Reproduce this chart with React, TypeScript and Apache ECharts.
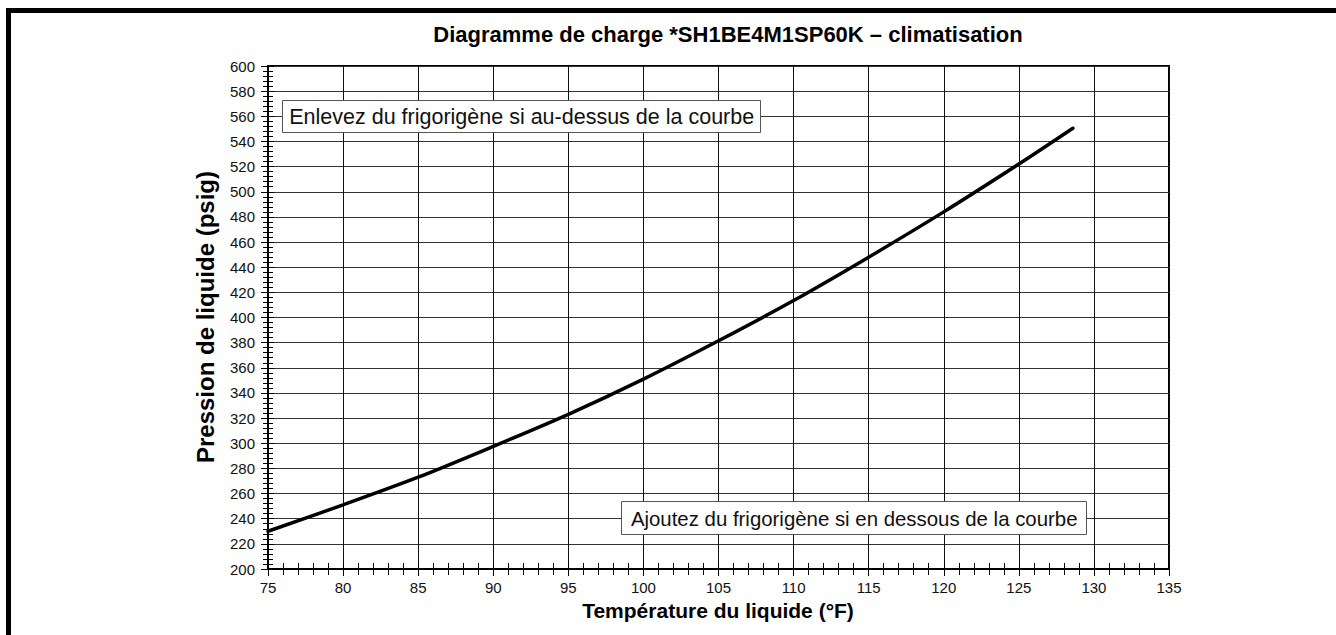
import React, { useEffect, useRef } from "react";
import * as echarts from "echarts";

const temperatures = [75, 80, 85, 90, 95, 100, 105, 110, 115, 120, 125, 128.6];
const pressures = [230, 251, 273, 297.5, 323, 351, 381.5, 413.5, 448, 484, 522, 550.5];

const titleText = "Diagramme de charge *SH1BE4M1SP60K – climatisation";
const xName = "Température du liquide (°F)";
const yName = "Pression de liquide (psig)";
const noteAbove = "Enlevez du frigorigène si au-dessus de la courbe";
const noteBelow = "Ajoutez du frigorigène si en dessous de la courbe";

const FONT = "'Liberation Sans', Arial, Helvetica, sans-serif";

export default function App() {
  const ref = useRef<HTMLDivElement>(null);
  useEffect(() => {
    if (!ref.current) return;
    const chart = echarts.init(ref.current, null, { renderer: "svg" });
    const label = { color: "#111", fontSize: 15, fontFamily: FONT };
    const xBase = {
      type: "value",
      min: 75,
      max: 135,
      interval: 5,
      position: "bottom",
    };
    const yBase = {
      type: "value",
      min: 200,
      max: 600,
      interval: 20,
      position: "left",
    };
    chart.setOption({
      animation: false,
      backgroundColor: "#fff",
      textStyle: { fontFamily: FONT },
      grid: {
        left: 268,
        right: 167,
        top: 66,
        bottom: 66,
        show: true,
        borderColor: "#000",
        borderWidth: 2,
        backgroundColor: "transparent",
      },
      xAxis: [
        {
          ...xBase,
          axisLine: { show: true, lineStyle: { color: "#000", width: 2 } },
          axisTick: { show: true, length: 7, lineStyle: { color: "#000", width: 1 } },
          minorTick: { show: true, splitNumber: 5, length: 6, lineStyle: { color: "#000", width: 1 } },
          splitLine: { show: true, lineStyle: { color: "#111", width: 1 } },
          axisLabel: { ...label, margin: 11 },
        },
        {
          ...xBase,
          axisLine: { show: false },
          axisTick: { show: true, inside: true, length: 6, lineStyle: { color: "#000", width: 1 } },
          minorTick: { show: true, splitNumber: 5, length: 6, lineStyle: { color: "#000", width: 1 } },
          splitLine: { show: false },
          axisLabel: { show: false },
        },
      ],
      yAxis: [
        {
          ...yBase,
          axisLine: { show: true, lineStyle: { color: "#000", width: 2 } },
          axisTick: { show: true, length: 7, lineStyle: { color: "#000", width: 1 } },
          minorTick: { show: true, splitNumber: 5, length: 5, lineStyle: { color: "#000", width: 1 } },
          splitLine: { show: true, lineStyle: { color: "#333", width: 1 } },
          axisLabel: { ...label, margin: 13 },
        },
        {
          ...yBase,
          axisLine: { show: false },
          axisTick: { show: true, inside: true, length: 6, lineStyle: { color: "#000", width: 1 } },
          minorTick: { show: true, splitNumber: 5, length: 5, lineStyle: { color: "#000", width: 1 } },
          splitLine: { show: false },
          axisLabel: { show: false },
        },
      ],
      series: [
        {
          type: "line",
          xAxisIndex: 0,
          yAxisIndex: 0,
          data: temperatures.map((t, i) => [t, pressures[i]]),
          smooth: 0.3,
          showSymbol: false,
          symbol: "none",
          lineStyle: { color: "#000", width: 3.5, cap: "round" },
          z: 5,
        },
      ],
      graphic: [
        { type: "rect", shape: { x: 6, y: 8, width: 5, height: 627 }, style: { fill: "#000" }, z: 100 },
        { type: "rect", shape: { x: 6, y: 8, width: 1330, height: 5 }, style: { fill: "#000" }, z: 100 },
        {
          type: "text",
          x: 728,
          y: 34.5,
          style: { text: titleText, font: `bold 22px ${FONT}`, fill: "#000", textAlign: "center", textVerticalAlign: "middle" },
          z: 100,
        },
        {
          type: "text",
          x: 718,
          y: 610,
          style: { text: xName, font: `bold 21px ${FONT}`, fill: "#000", textAlign: "center", textVerticalAlign: "middle" },
          z: 100,
        },
        {
          type: "text",
          x: 205,
          y: 317,
          rotation: Math.PI / 2,
          style: { text: yName, font: `bold 24px ${FONT}`, fill: "#000", textAlign: "center", textVerticalAlign: "middle" },
          z: 100,
        },
        {
          type: "rect",
          shape: { x: 282.5, y: 100.5, width: 478, height: 32 },
          style: { fill: "#fff", stroke: "#555", lineWidth: 1 },
          z: 50,
        },
        {
          type: "text",
          x: 521.7,
          y: 117,
          style: { text: noteAbove, font: `21.5px ${FONT}`, fill: "#111", textAlign: "center", textVerticalAlign: "middle" },
          z: 51,
        },
        {
          type: "rect",
          shape: { x: 621.5, y: 501.5, width: 465, height: 33 },
          style: { fill: "#fff", stroke: "#555", lineWidth: 1 },
          z: 50,
        },
        {
          type: "text",
          x: 854.2,
          y: 518.5,
          style: { text: noteBelow, font: `20.4px ${FONT}`, fill: "#111", textAlign: "center", textVerticalAlign: "middle" },
          z: 51,
        },
      ],
    });
    return () => chart.dispose();
  }, []);
  return (
    <div
      ref={ref}
      style={{ position: "fixed", left: 0, top: 0, width: 1336, height: 635, background: "#fff" }}
    />
  );
}
